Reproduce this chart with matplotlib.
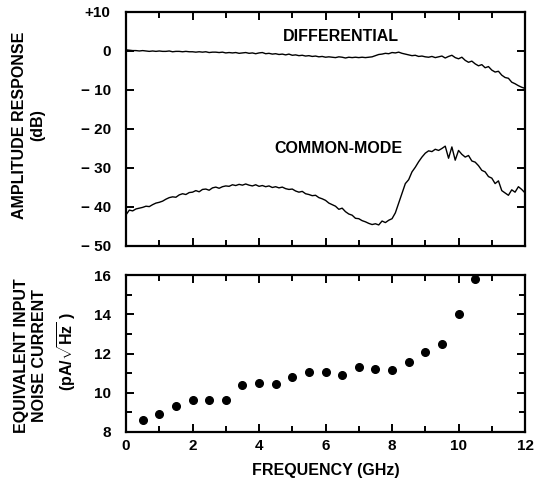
import numpy as np
import matplotlib
matplotlib.use("Agg")
import matplotlib.pyplot as plt
from matplotlib.ticker import MultipleLocator

plt.rcParams['font.family'] = ['Liberation Sans', 'DejaVu Sans']
plt.rcParams['font.weight'] = 'bold'
plt.rcParams['mathtext.fontset'] = 'custom'
plt.rcParams['mathtext.rm'] = 'Liberation Sans:bold'

# frequency grid of the two traces (GHz), read at 0.1 GHz steps
freq = np.round(np.arange(0, 121) * 0.1, 1)

# differential response (dB)
differential = [
    0.3, 0.2, 0.1, 0.1, 0.0, 0.1, 0.0, -0.1, 0.0, -0.1, 0.0,
    -0.1, -0.1, 0.0, -0.2, -0.1, -0.1, -0.2, -0.1, -0.2, -0.2,
    -0.3, -0.2, -0.3, -0.2, -0.4, -0.3, -0.3, -0.4, -0.3, -0.5,
    -0.4, -0.5, -0.4, -0.6, -0.5, -0.4, -0.6, -0.5, -0.7, -0.5,
    -0.4, -0.7, -0.6, -0.8, -0.7, -0.9, -0.8, -1.0, -0.8, -1.1,
    -1.0, -1.2, -1.1, -1.3, -1.2, -1.4, -1.3, -1.5, -1.4, -1.6,
    -1.5, -1.6, -1.7, -1.5, -1.6, -1.8, -1.6, -1.7, -1.6, -1.7,
    -1.6, -1.7, -1.6, -1.5, -1.2, -0.9, -0.8, -0.6, -0.7, -0.4,
    -0.5, -0.3, -0.6, -0.8, -1.0, -1.2, -1.1, -1.4, -1.3, -1.5,
    -1.6, -1.4, -1.7, -1.5, -1.3, -1.8, -1.4, -1.1, -1.7, -2.0,
    -1.6, -2.4, -2.9, -2.6, -3.3, -3.8, -3.5, -4.3, -4.0, -4.9,
    -5.4, -5.2, -6.2, -6.8, -7.0, -8.0, -8.4, -8.9, -9.3, -9.6,
]

# common-mode response (dB)
common_mode = [
    -42.0, -40.8, -41.0, -40.5, -40.3, -40.1, -39.8, -39.9, -39.4, -39.0, -38.8,
    -38.5, -38.0, -37.6, -37.4, -37.5, -36.9, -36.6, -36.8, -36.3, -36.2,
    -35.8, -36.1, -35.5, -35.4, -35.7, -35.1, -34.9, -35.2, -34.8, -34.6,
    -34.7, -34.3, -34.5, -34.2, -34.4, -34.1, -34.4, -34.6, -34.3, -34.7,
    -34.5, -34.8, -34.6, -35.0, -34.8, -35.1, -34.9, -35.3, -35.5, -35.4,
    -35.9, -36.2, -36.0, -36.6, -36.8, -37.1, -37.0, -37.6, -37.9, -38.3,
    -39.0, -39.4, -39.8, -40.6, -40.3, -41.2, -41.8, -42.1, -42.9, -43.0,
    -43.5, -43.8, -44.2, -44.5, -44.3, -44.6, -43.6, -44.0, -43.4, -43.0,
    -41.5, -39.0, -36.5, -34.0, -33.0, -31.0, -29.8, -28.4, -27.2, -26.2,
    -25.6, -25.8, -25.2, -25.5, -25.0, -24.4, -27.5, -24.6, -28.0, -25.5,
    -26.5, -27.2, -26.8, -28.2, -28.5, -29.4, -30.6, -31.0, -32.2, -32.6,
    -34.0, -33.3, -35.8, -36.4, -37.0, -35.6, -36.2, -34.8, -35.5, -36.4,
]

# equivalent input noise current
noise_freq = [0.5, 1.0, 1.5, 2.0, 2.5, 3.0, 3.5, 4.0, 4.5, 5.0, 5.5,
              6.0, 6.5, 7.0, 7.5, 8.0, 8.5, 9.0, 9.5, 10.0, 10.5]
noise_current = [8.6, 8.9, 9.3, 9.65, 9.65, 9.65, 10.4, 10.5, 10.45, 10.8, 11.05,
                 11.05, 10.9, 11.3, 11.2, 11.15, 11.55, 12.1, 12.5, 14.0, 15.8]

amp_ticks = [10, 0, -10, -20, -30, -40, -50]
amp_labels = ['+10', '0', '\u2212 10', '\u2212 20', '\u2212 30', '\u2212 40', '\u2212 50']

W, H = 539, 483
fig = plt.figure(figsize=(W / 100, H / 100), dpi=100)
ax1 = fig.add_axes([0.2338, 0.4907, 0.7403, 0.4845])
ax2 = fig.add_axes([0.2338, 0.1056, 0.7403, 0.3250])


def style(ax):
    for s in ax.spines.values():
        s.set_linewidth(1.6)
    ax.tick_params(which='both', direction='in', top=True, right=True,
                   width=1.4, labelsize=11)
    ax.tick_params(which='major', length=6)
    ax.tick_params(which='minor', length=4)
    ax.xaxis.set_major_locator(MultipleLocator(2))
    ax.xaxis.set_minor_locator(MultipleLocator(1))
    ax.set_xlim(0, 12)


def side_label(x, y, s):
    # rotated axis title line, placed in pixel coords
    fig.text(x / W, 1 - y / H, s, rotation=90, ha='center', va='center',
             fontsize=11.5, fontweight='bold')


style(ax1)
ax1.plot(freq, differential, color='black', lw=1.0)
ax1.plot(freq, common_mode, color='black', lw=1.0)
ax1.set_ylim(-50, 10)
ax1.set_yticks(amp_ticks)
ax1.set_yticklabels(amp_labels)
ax1.tick_params(axis='y', pad=11)
ax1.tick_params(axis='x', labelbottom=False)
ax1.text(6.45, 3.6, 'DIFFERENTIAL', ha='center', va='center', fontsize=11.5, fontweight='bold')
ax1.text(6.4, -25.1, 'COMMON-MODE', ha='center', va='center', fontsize=11.5, fontweight='bold')
side_label(20, 125, 'AMPLITUDE RESPONSE')
side_label(38, 125, '(dB)')

style(ax2)
ax2.plot(noise_freq, noise_current, 'o', color='black', markersize=5.5)
ax2.set_ylim(8, 16)
ax2.yaxis.set_major_locator(MultipleLocator(2))
ax2.yaxis.set_minor_locator(MultipleLocator(1))
ax2.tick_params(axis='y', pad=11)
ax2.tick_params(axis='x', pad=5)
ax2.set_xlabel('FREQUENCY (GHz)', fontsize=11.5, fontweight='bold', labelpad=7)
side_label(22, 356, 'EQUIVALENT INPUT')
side_label(40, 356, 'NOISE CURRENT')
side_label(67, 352, r'(pA/$\sqrt{\mathrm{Hz}}$ )')

fig.savefig('out.png', dpi=100)
